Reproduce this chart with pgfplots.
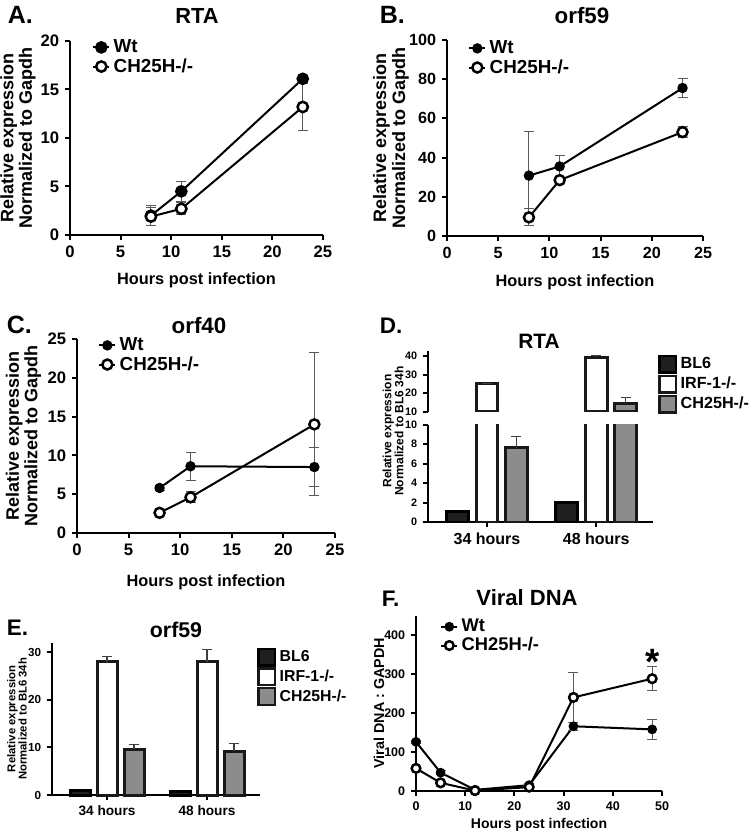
\documentclass[border=0pt]{standalone}
\usepackage{fontspec}
\setmainfont{Liberation Sans}
\usepackage{pgfplots}
\pgfplotsset{compat=1.18}

\newcommand{\px}{0.6pt}
\newcommand{\fs}[2]{\fontsize{#1}{#2}\selectfont\bfseries}

\pgfplotsset{
  prism/.style={
    scale only axis, clip=false, anchor=south west,
    axis x line*=bottom, axis y line*=left,
    axis line style={line width=1.2pt, black},
    tick align=outside, major tick length=3pt,
    tick style={line width=1.2pt, black},
    /pgf/number format/assume math mode=true,
    tick label style={font=\fs{10}{12}},
    legend cell align=left,
    legend style={draw=none, fill=none, inner sep=0pt, at={(0,1)}, anchor=north west,
      font=\fs{11.3}{13}, row sep=-2pt},
    legend image code/.code={\draw[mark repeat=2,mark phase=2]
      plot coordinates {(0pt,0pt)(4.8pt,0pt)(9.6pt,0pt)};},
  },
  xlab/.style 2 args={every axis x label/.style={at={(axis description cs:0.5,0)},
      yshift=#1*\px, anchor=base, font=#2}},
  ylab/.style 2 args={every axis y label/.style={at={(axis description cs:0,0.5)},
      xshift=#1*\px, rotate=90, anchor=center, align=center, font=#2}},
  wt/.style={black, line width=1.2pt, mark=*, mark size=2.5pt, mark options={fill=black, solid}},
  ko/.style={black, line width=1.2pt, mark=*, mark size=3.0pt,
    mark options={fill=white, solid, line width=1.5pt}},
  ebar/.style={/pgfplots/error bars/y dir=both, /pgfplots/error bars/y explicit,
    /pgfplots/error bars/error bar style={line width=0.6pt, black!65},
    /pgfplots/error bars/error mark options={rotate=90, line width=0.6pt, black!65, mark size=3pt}},
  pbar/.style={/pgfplots/error bars/y dir=plus, /pgfplots/error bars/y explicit,
    /pgfplots/error bars/error bar style={line width=0.7pt, black!75},
    /pgfplots/error bars/error mark options={rotate=90, line width=0.7pt, black!75, mark size=3pt}},
  % bars are placed at their own x (group centre -0.27, 0, +0.27), so no bar shift
  bl6/.style={ybar, bar width=0.2, bar shift=0, fill=black!88, draw=black, line width=1.8pt},
  irf/.style={ybar, bar width=0.2, bar shift=0, fill=white, draw=black!90, line width=1.8pt},
  chk/.style={ybar, bar width=0.2, bar shift=0, fill=black!45, draw=black!90, line width=1.8pt},
  barleg/.style={legend image code/.code={\draw[##1, line width=1.4pt] (0pt,-5pt) rectangle (10pt,5pt);}},
}

\begin{document}
\begin{tikzpicture}
\useasboundingbox (0,0) rectangle (750*\px,-835*\px);

% ---------- panel letters and titles
\node[anchor=base west, font=\fs{15}{17}] at (2*\px,-24*\px) {A.};
\node[anchor=base west, font=\fs{15}{17}] at (374*\px,-24*\px) {B.};
\node[anchor=base west, font=\fs{15}{17}] at (1*\px,-333*\px) {C.};
\node[anchor=base west, font=\fs{13.5}{15}] at (374*\px,-333*\px) {D.};
\node[anchor=base west, font=\fs{13.5}{15}] at (1*\px,-635*\px) {E.};
\node[anchor=base west, font=\fs{13.5}{15}] at (376*\px,-606*\px) {F.};

\node[anchor=base, font=\fs{13.1}{15}] at (197*\px,-24*\px) {RTA};
\node[anchor=base, font=\fs{13.4}{15}] at (582*\px,-24*\px) {orf59};
\node[anchor=base, font=\fs{13.4}{15}] at (199*\px,-333*\px) {orf40};
\node[anchor=base, font=\fs{12.5}{15}] at (539*\px,-348*\px) {RTA};
\node[anchor=base, font=\fs{12.8}{15}] at (176*\px,-637*\px) {orf59};
\node[anchor=base, font=\fs{13.2}{15}] at (527*\px,-605*\px) {Viral DNA};

% ---------- A: RTA
\begin{axis}[prism, at={(70*\px,-235*\px)}, width=253*\px, height=194*\px,
  xmin=0, xmax=25, xtick={0,5,...,25}, ymin=0, ymax=20, ytick={0,5,...,20},
  xlab={-49}{\fs{9.8}{12}}, ylab={-52}{\fs{10.8}{11.2}},
  xlabel={Hours post infection}, ylabel={Relative expression\\Normalized to Gapdh},
  wt/.append style={mark size=3.2pt}, ko/.append style={mark size=3.1pt},
  legend style={xshift=22*\px, yshift=5*\px}]
\addplot[wt, ebar] coordinates {(8,2.0) +- (0,1.0) (11,4.5) +- (0,1.0) (23,16.1) +- (0,0.3)};
\addplot[ko, ebar] coordinates {(8,1.9) +- (0,0.9) (11,2.7) +- (0,0.6) (23,13.2) +- (0,2.4)};
\legend{Wt,CH25H-/-}
\end{axis}

% ---------- B: orf59
\begin{axis}[prism, at={(447*\px,-236*\px)}, width=256*\px, height=196*\px,
  xmin=0, xmax=25, xtick={0,5,...,25}, ymin=0, ymax=100, ytick={0,20,...,100},
  tick label style={font=\fs{9.7}{12}},
  xlab={-51}{\fs{9.8}{12}}, ylab={-56}{\fs{10.8}{11.4}},
  xlabel={Hours post infection}, ylabel={Relative expression\\Normalized to Gapdh},
  legend style={xshift=21*\px, yshift=3*\px}]
\addplot[wt, ebar] coordinates {(8,30.8) +- (0,22.6) (11,35.5) +- (0,5.5) (23,75.5) +- (0,5.0)};
\addplot[ko, ebar] coordinates {(8,9.5) +- (0,4.3) (11,28.5) +- (0,1.5) (23,53.0) +- (0,3.0)};
\legend{Wt,CH25H-/-}
\end{axis}

% ---------- C: orf40
\begin{axis}[prism, at={(77*\px,-533*\px)}, width=258*\px, height=194*\px,
  xmin=0, xmax=25, xtick={0,5,...,25}, ymin=0, ymax=25, ytick={0,5,...,25},
  xlab={-53}{\fs{9.8}{12}}, ylab={-53.5}{\fs{10.8}{11.2}},
  xlabel={Hours post infection}, ylabel={Relative expression\\Normalized to Gapdh},
  legend style={xshift=21*\px, yshift=5*\px}]
\addplot[wt, ebar] coordinates {(8,5.8) +- (0,0.3) (11,8.6) +- (0,1.8) (23,8.5) +- (0,2.5)};
\addplot[ko, ebar] coordinates {(8,2.6) +- (0,0.3) (11,4.6) +- (0,0.7) (23,14.0) +- (0,9.2)};
\legend{Wt,CH25H-/-}
\end{axis}

% ---------- D: RTA bars, broken y axis (lower part)
\begin{axis}[prism, clip=true, at={(428*\px,-522*\px)}, width=225*\px, height=97.5*\px,
  xmin=-0.54, xmax=1.52, xtick={0,1}, xticklabels={34 hours,48 hours},
  x tick label style={font=\fs{9.6}{11}},
  y tick label style={font=\fs{6.5}{7}},
  ymin=0, ymax=10, ytick={0,2,...,10}]
\addplot[bl6] coordinates {(-0.27,1.1) (0.73,2.0)};
\addplot[irf, pbar] coordinates {(0,25.0) +- (0,0.3) (1,39.5) +- (0,0.8)};
\addplot[chk, pbar] coordinates {(0.27,7.6) +- (0,1.15) (1.27,14.6) +- (0,3.1)};
\end{axis}
% upper part
\begin{axis}[prism, clip=true, at={(428*\px,-411.5*\px)}, width=225*\px, height=60.8*\px,
  xmin=-0.54, xmax=1.52, axis x line=none,
  y tick label style={font=\fs{6.5}{7}},
  ymin=10, ymax=43, ytick={10,20,30,40}, barleg,
  legend style={xshift=230*\px, yshift=-3*\px, font=\fs{9.7}{12}, row sep=-0.5pt}]
\addlegendimage{bl6}
\addplot[irf, pbar] coordinates {(0,25.0) +- (0,0.3) (1,39.5) +- (0,0.8)};
\addplot[chk, pbar] coordinates {(1.27,14.6) +- (0,3.1)};
\legend{BL6,IRF-1-/-,CH25H-/-}
\end{axis}
\node[rotate=90, align=center, font=\fs{7.2}{7.2}] at (393*\px,-431*\px)
  {Relative expression\\Normalized to BL6 34h};

% ---------- E: orf59 bars
\begin{axis}[prism, at={(52*\px,-795*\px)}, width=208*\px, height=152.2*\px,
  xmin=-0.55, xmax=1.53, xtick={0,1}, xticklabels={34 hours,48 hours},
  x tick label style={font=\fs{8.2}{10}},
  y tick label style={font=\fs{7}{8}},
  ymin=0, ymax=32, ytick={0,10,20,30}, barleg,
  ylab={-35}{\fs{6.8}{6.8}}, ylabel={Relative expression\\Normalized to BL6 34h},
  legend style={xshift=205*\px, yshift=-4*\px, font=\fs{9.5}{11}, row sep=-0.5pt}]
\addplot[bl6] coordinates {(-0.27,1.0) (0.73,0.8)};
\addplot[irf, pbar] coordinates {(0,28.0) +- (0,1.1) (1,28.0) +- (0,2.6)};
\addplot[chk, pbar] coordinates {(0.27,9.6) +- (0,1.1) (1.27,9.25) +- (0,1.65)};
\legend{BL6,IRF-1-/-,CH25H-/-}
\end{axis}

% ---------- F: viral DNA
\begin{axis}[prism, at={(416*\px,-791*\px)}, width=246*\px, height=175.5*\px,
  xmin=0, xmax=50, xtick={0,10,...,50}, ymin=0, ymax=450, ytick={0,100,...,400},
  tick label style={font=\fs{7.5}{9}},
  xlab={-37.3}{\fs{8.4}{10}}, ylab={-37}{\fs{8.6}{10}},
  xlabel={Hours post infection}, ylabel={Viral DNA : GAPDH},
  wt/.append style={mark size=2.3pt}, ko/.append style={mark size=2.6pt},
  legend style={xshift=24*\px, yshift=0*\px, font=\fs{11}{13}}]
\addplot[wt, ebar] coordinates {(0,126) +- (0,3) (5,47) +- (0,5) (12,3) +- (0,2)
  (23,15) +- (0,3) (32,166) +- (0,10) (48,158) +- (0,25)};
\addplot[ko, ebar] coordinates {(0,58) +- (0,3) (5,21) +- (0,4) (12,1) +- (0,2)
  (23,10) +- (0,3) (32,240) +- (0,65) (48,288) +- (0,30)};
\legend{Wt,CH25H-/-}
\node[anchor=base, font=\fs{22}{24}] at (axis cs:48,300) {*};
\end{axis}

\end{tikzpicture}
\end{document}
